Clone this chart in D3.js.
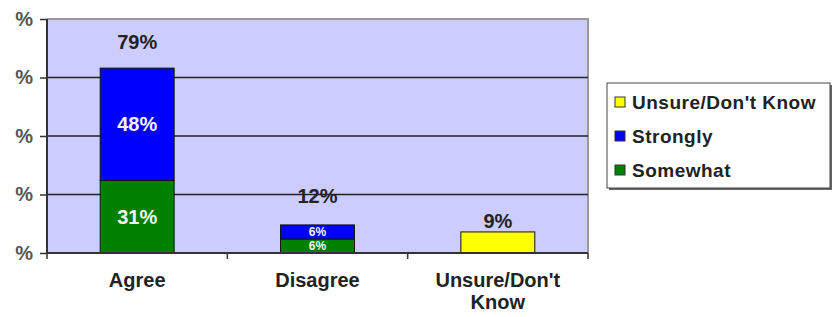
<!DOCTYPE html>
<html>
<head>
<meta charset="utf-8">
<script src="https://cdn.jsdelivr.net/npm/d3@7"></script>
<style>
  body { margin: 0; background: #fff; }
  svg { display: block; font-family: "Liberation Sans", Arial, sans-serif; }
</style>
</head>
<body>
<svg id="chart" width="836" height="317"></svg>
<script>
const categories = ['Agree', 'Disagree', 'Unsure/Don\'t Know']
const categoryLines = [['Agree'], ['Disagree'], ['Unsure/Don\'t', 'Know']]
const somewhat = [31, 6, 0]
const strongly = [48, 6, 0]
const unsure = [0, 0, 9]
const totals = [79, 12, 9]
const yTicks = [0, 25, 50, 75, 100]
const legendItems = ['Unsure/Don\'t Know', 'Strongly', 'Somewhat']

const colors = { Somewhat: '#008000', Strongly: '#0000ff', 'Unsure/Don\'t Know': '#ffff00' }

const svg = d3.select('#chart')
const plot = { left: 47, top: 19, right: 588, bottom: 253 }

const x = d3.scaleBand()
	.domain(categories)
	.range([plot.left, plot.right])
	.paddingInner(0.59)
	.paddingOuter(0.295)

const y = d3.scaleLinear()
	.domain([0, 100])
	.range([plot.bottom, plot.top])

// plot background with a grey frame on top/right
svg.append('rect')
	.attr('x', plot.left).attr('y', plot.top)
	.attr('width', plot.right - plot.left).attr('height', plot.bottom - plot.top)
	.attr('fill', '#ccccff')
svg.append('path')
	.attr('d', `M${plot.left},${plot.top}H${plot.right}V${plot.bottom}`)
	.attr('fill', 'none').attr('stroke', '#999').attr('stroke-width', 2)

// gridlines
svg.selectAll(null)
	.data(yTicks.slice(1, -1))
	.enter().append('line')
		.attr('x1', plot.left).attr('x2', plot.right)
		.attr('y1', (d) => y(d)).attr('y2', (d) => y(d))
		.attr('stroke', '#222').attr('stroke-width', 1.5)

// stacked bars
const stacks = [
	{ key: 'Somewhat', values: somewhat, base: categories.map(() => 0) },
	{ key: 'Strongly', values: strongly, base: somewhat },
	{ key: 'Unsure/Don\'t Know', values: unsure, base: categories.map(() => 0) }
]
stacks.forEach((s) => {
	svg.selectAll(null)
		.data(categories.map((c, i) => ({ c, v: s.values[i], b: s.base[i] })).filter((d) => d.v > 0))
		.enter().append('rect')
			.attr('x', (d) => x(d.c))
			.attr('width', x.bandwidth())
			.attr('y', (d) => y(d.b + d.v))
			.attr('height', (d) => y(d.b) - y(d.b + d.v))
			.attr('fill', colors[s.key])
			.attr('stroke', '#111').attr('stroke-width', 1)
})

// segment labels (white, inside); small segments get a smaller font
stacks.slice(0, 2).forEach((s) => {
	svg.selectAll(null)
		.data(categories.map((c, i) => ({ c, v: s.values[i], b: s.base[i] })).filter((d) => d.v > 0))
		.enter().append('text')
			.attr('x', (d) => x(d.c) + x.bandwidth() / 2)
			.attr('y', (d) => y(d.b + d.v / 2) + (d.v > 20 ? 7 : 4))
			.attr('text-anchor', 'middle')
			.attr('font-size', (d) => d.v > 20 ? 20 : 12).attr('font-weight', 'bold')
			.attr('fill', '#f4f4f4')
			.text((d) => d.v + '%')
})

// totals above bars
svg.selectAll(null)
	.data(categories)
	.enter().append('text')
		.attr('x', (d) => x(d) + x.bandwidth() / 2)
		.attr('y', (d, i) => y(totals[i]) - (i === 0 ? 19 : i === 1 ? 22 : 4))
		.attr('text-anchor', 'middle')
		.attr('font-size', 20).attr('font-weight', 'bold')
		.attr('fill', '#222')
		.text((d, i) => totals[i] + '%')

// axes
svg.append('line')
	.attr('x1', plot.left).attr('x2', plot.left)
	.attr('y1', plot.top).attr('y2', plot.bottom + 1)
	.attr('stroke', '#333').attr('stroke-width', 2)
svg.append('line')
	.attr('x1', plot.left).attr('x2', plot.right)
	.attr('y1', plot.bottom).attr('y2', plot.bottom)
	.attr('stroke', '#333').attr('stroke-width', 2)

const yAxis = d3.axisLeft(y).tickValues(yTicks).tickSize(7).tickFormat(() => '%')
svg.append('g')
	.attr('transform', `translate(${plot.left},0)`)
	.call(yAxis)
	.call((g) => g.select('.domain').remove())
	.call((g) => g.selectAll('line').attr('stroke', '#333').attr('stroke-width', 1.5))
	.call((g) => g.selectAll('text').attr('font-size', 20).attr('fill', '#555')
		.attr('font-weight', 'bold')
		.attr('font-family', '"Liberation Sans", Arial, sans-serif').attr('x', -14))

// category ticks at band edges
svg.selectAll(null)
	.data(categories.map((c, i) => plot.left + i * (plot.right - plot.left) / categories.length).concat([plot.right]))
	.enter().append('line')
		.attr('x1', (d) => d).attr('x2', (d) => d)
		.attr('y1', plot.bottom).attr('y2', plot.bottom + 6)
		.attr('stroke', '#333').attr('stroke-width', 1.5)

// category labels
categories.forEach((c, i) => {
	const t = svg.append('text')
		.attr('x', x(c) + x.bandwidth() / 2)
		.attr('y', 287)
		.attr('text-anchor', 'middle')
		.attr('font-size', 20).attr('font-weight', 'bold')
		.attr('fill', '#222')
	categoryLines[i].forEach((line, j) => {
		t.append('tspan')
			.attr('x', x(c) + x.bandwidth() / 2)
			.attr('dy', j === 0 ? 0 : 22)
			.text(line)
	})
})

// legend
const legend = svg.append('g')
legend.append('rect')
	.attr('x', 609).attr('y', 85).attr('width', 223).attr('height', 105)
	.attr('fill', '#666')
legend.append('rect')
	.attr('x', 607).attr('y', 83).attr('width', 223).attr('height', 105)
	.attr('fill', '#fff').attr('stroke', '#444').attr('stroke-width', 1)
legendItems.forEach((name, i) => {
	const yy = 102 + i * 34
	legend.append('rect')
		.attr('x', 615).attr('y', yy - 5).attr('width', 10).attr('height', 10)
		.attr('fill', colors[name]).attr('stroke', '#333').attr('stroke-width', 1)
	legend.append('text')
		.attr('x', 632).attr('y', yy + 7)
		.attr('font-size', 19).attr('font-weight', 'bold')
		.attr('letter-spacing', 0.5)
		.attr('fill', '#222')
		.text(name)
})
</script>
</body>
</html>
